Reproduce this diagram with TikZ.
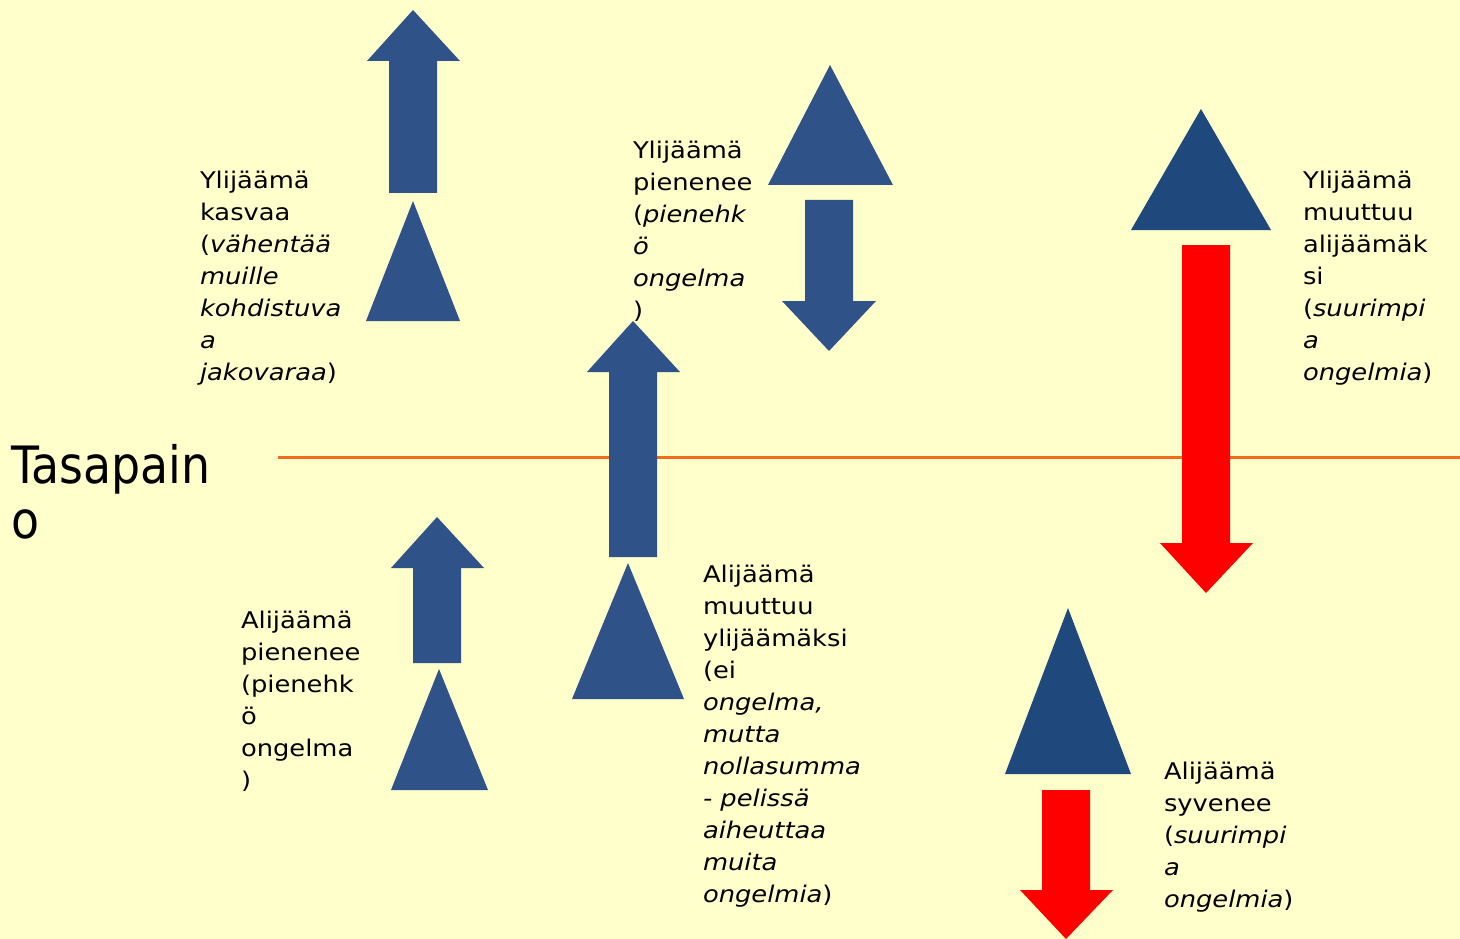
\documentclass[tikz,border=0pt]{standalone}
\usepackage{fontspec}
\setmainfont{DejaVu Sans}[FakeStretch=1.12]
\newfontfamily\bigfnt{DejaVu Sans}[FakeStretch=0.89]
\definecolor{bgyellow}{HTML}{FFFFCC}
\definecolor{arrblue}{HTML}{2F5288}
\definecolor{arrdark}{HTML}{1F497D}
\definecolor{arrred}{HTML}{FF0000}
\definecolor{lineorange}{HTML}{F26B1D}
\newcommand\myblock[1]{\vtop{\baselineskip=32pt\lineskiplimit=-30pt\lineskip=0pt #1}}
\newcommand\myl[1]{\hbox{#1}}
\tikzset{
  bluefill/.style={fill=arrblue, draw=none},
  darkfill/.style={fill=arrdark, draw=none},
  redfill/.style={fill=arrred, draw=none},
  lbl/.style={anchor=base west, inner sep=0pt, outer sep=0pt, text=black,
    font=\fontsize{23pt}{32pt}\selectfont},
}
\begin{document}
\begin{tikzpicture}[x=1pt,y=-1pt]
\useasboundingbox (0,0) rectangle (1460,939);
\fill[bgyellow] (0,0) rectangle (1460,939);
% balance line
\draw[lineorange, line width=3pt] (278,457) -- (1460,457);
% top-left: up arrow + triangle
\path[bluefill] (413,10) -- (460,61) -- (437,61) -- (437,193) -- (389,193) -- (389,61) -- (367,61) -- cycle;
\path[bluefill] (413,201) -- (460,321) -- (366,321) -- cycle;
% top-middle: triangle + down arrow
\path[bluefill] (830,65) -- (893,185) -- (768,185) -- cycle;
\path[bluefill] (805,200) -- (853,200) -- (853,301) -- (876,301) -- (829,351) -- (782,301) -- (805,301) -- cycle;
% middle: up arrow crossing the line + triangle
\path[bluefill] (633,321) -- (680,372) -- (657,372) -- (657,557) -- (609,557) -- (609,372) -- (587,372) -- cycle;
\path[bluefill] (628,563) -- (684,699) -- (572,699) -- cycle;
% lower-left: up arrow + triangle
\path[bluefill] (437,517) -- (484,568) -- (461,568) -- (461,663) -- (413,663) -- (413,568) -- (391,568) -- cycle;
\path[bluefill] (439,669) -- (488,790) -- (391,790) -- cycle;
% right-top: triangle + red down arrow
\path[darkfill] (1201,109) -- (1271,230) -- (1131,230) -- cycle;
\path[redfill] (1182,245) -- (1230,245) -- (1230,543) -- (1253,543) -- (1206,593) -- (1160,543) -- (1182,543) -- cycle;
% right-bottom: triangle + red down arrow
\path[darkfill] (1068,608) -- (1131,774) -- (1005,774) -- cycle;
\path[redfill] (1042,790) -- (1090,790) -- (1090,890) -- (1113,890) -- (1066,939) -- (1020,890) -- (1042,890) -- cycle;
% labels
\node[anchor=base west, inner sep=0pt, font=\bigfnt\fontsize{51.5pt}{55pt}\selectfont] (tasa) at (11,483)
  {\vtop{\baselineskip=55pt\lineskiplimit=-30pt\lineskip=0pt \hbox{Tasapain}\hbox{o}}};
\node[lbl] (ykasvaa) at (200,189) {\myblock{\myl{Ylijäämä}\myl{kasvaa}\myl{(\textit{vähentää}}\myl{\textit{muille}}\myl{\textit{kohdistuva}}\myl{\textit{a}}\myl{\textit{jakovaraa})}}};
\node[lbl] (ypienenee) at (633,159) {\myblock{\myl{Ylijäämä}\myl{pienenee}\myl{(\textit{pienehk}}\myl{\textit{ö}}\myl{\textit{ongelma}}\myl{)}}};
\node[lbl] (ymuuttuu) at (1303,189) {\myblock{\myl{Ylijäämä}\myl{muuttuu}\myl{alijäämäk}\myl{si}\myl{(\textit{suurimpi}}\myl{\textit{a}}\myl{\textit{ongelmia})}}};
\node[lbl] (apienenee) at (241,628) {\myblock{\myl{Alijäämä}\myl{pienenee}\myl{(pienehk}\myl{ö}\myl{ongelma}\myl{)}}};
\node[lbl] (amuuttuu) at (703,582) {\myblock{\myl{Alijäämä}\myl{muuttuu}\myl{ylijäämäksi}\myl{(ei}\myl{\textit{ongelma,}}\myl{\textit{mutta}}\myl{\textit{nollasumma}}\myl{\textit{- pelissä}}\myl{\textit{aiheuttaa}}\myl{\textit{muita}}\myl{\textit{ongelmia})}}};
\node[lbl] (asyvenee) at (1164,779) {\myblock{\myl{Alijäämä}\myl{syvenee}\myl{(\textit{suurimpi}}\myl{\textit{a}}\myl{\textit{ongelmia})}}};
\end{tikzpicture}
\end{document}
